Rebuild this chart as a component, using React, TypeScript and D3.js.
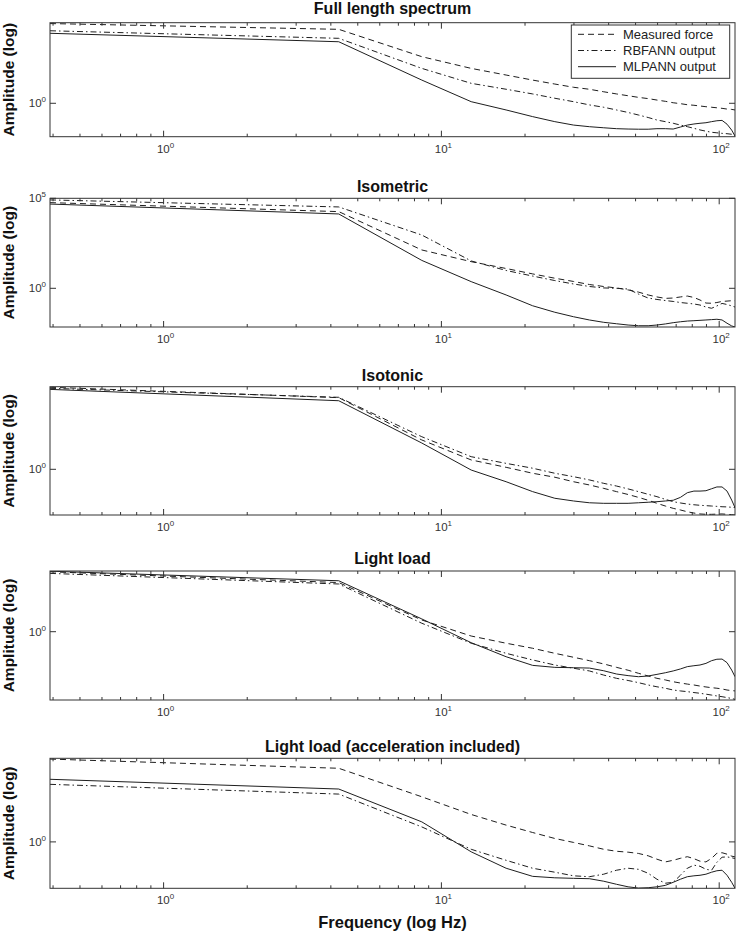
import React from 'react';
import * as d3 from 'd3';

// ---------- DATA (amplitudes stored as log10 exponents) ----------
const freqs = [0.39, 4.27, 8.5, 12.8, 17.1, 21.3, 25.6, 29.9, 34.1, 38.4, 42.7, 47, 51.2, 55.5, 59.7, 64, 68.3, 72.5, 76.8, 81.1, 85.3, 89.6, 93.9, 98.1, 102.4, 106.7, 110.9, 114];
const freqDomain = [0.39, 114];

const titles = ['Full length spectrum', 'Isometric', 'Isotonic', 'Light load', 'Light load (acceleration included)'];
const yMinExp = [-1.856, -2.15, -2.539, -3.794, -2.572];
const yMaxExp = [4.478, 5, 4.589, 3.372, 4.633];
const seriesNames = ['Measured force', 'RBFANN output', 'MLPANN output'];
const xTickExps = [0, 1, 2];

const fullMeasured = [4.43, 4.11, 2.59, 1.94, 1.57, 1.29, 1.07, 0.89, 0.78, 0.64, 0.52, 0.42, 0.33, 0.26, 0.18, 0.11, 0.03, -0.02, -0.08, -0.11, -0.15, -0.19, -0.22, -0.25, -0.28, -0.32, -0.34, -0.37];
const fullRbf = [4.03, 3.61, 1.94, 1.11, 0.78, 0.52, 0.28, 0.09, -0.09, -0.22, -0.37, -0.51, -0.65, -0.79, -0.93, -1.02, -1.11, -1.21, -1.30, -1.39, -1.48, -1.55, -1.61, -1.64, -1.67, -1.69, -1.72, -1.76];
const fullMlp = [3.89, 3.42, 1.29, 0.09, -0.37, -0.74, -1.02, -1.21, -1.30, -1.36, -1.41, -1.43, -1.44, -1.44, -1.41, -1.41, -1.43, -1.32, -1.21, -1.15, -1.11, -1.08, -1.02, -0.97, -0.95, -1.16, -1.49, -1.82];

const isoMeasured = [4.76, 4.26, 2.13, 1.48, 1.10, 0.80, 0.56, 0.38, 0.21, 0.10, 0.02, -0.09, -0.21, -0.37, -0.48, -0.56, -0.54, -0.48, -0.43, -0.51, -0.65, -0.82, -0.83, -0.79, -0.73, -0.71, -0.69, -0.69];
const isoRbf = [4.91, 4.52, 2.96, 1.52, 0.99, 0.68, 0.43, 0.24, 0.10, 0.02, 0, -0.04, -0.32, -0.54, -0.62, -0.68, -0.73, -0.79, -0.83, -0.87, -0.93, -1.04, -1.11, -0.98, -0.84, -0.90, -0.98, -1.04];
const isoMlp = [4.68, 4.13, 1.55, 0.37, -0.37, -0.97, -1.33, -1.58, -1.76, -1.89, -1.97, -2.04, -2.08, -2.08, -2.04, -1.98, -1.91, -1.86, -1.82, -1.80, -1.78, -1.76, -1.74, -1.72, -1.76, -1.94, -2.09, -2.15];

const tonMeasured = [4.56, 3.98, 1.63, 0.52, 0.11, -0.22, -0.44, -0.69, -0.87, -1.06, -1.24, -1.40, -1.56, -1.72, -1.89, -2.04, -2.17, -2.26, -2.36, -2.43, -2.48, -2.50, -2.50, -2.49, -2.48, -2.50, -2.52, -2.54];
const tonRbf = [4.50, 4.00, 1.81, 0.70, 0.33, 0.06, -0.22, -0.41, -0.59, -0.78, -0.93, -1.09, -1.24, -1.39, -1.52, -1.67, -1.80, -1.87, -1.93, -1.97, -2.00, -2.02, -2.04, -2.06, -2.08, -2.09, -2.11, -2.13];
const tonMlp = [4.44, 3.81, 1.46, -0.04, -0.69, -1.24, -1.61, -1.76, -1.86, -1.89, -1.89, -1.89, -1.86, -1.83, -1.80, -1.76, -1.72, -1.56, -1.30, -1.21, -1.21, -1.19, -1.08, -0.98, -0.98, -1.21, -1.71, -2.13];

const lightMeasured = [3.33, 2.73, 0.65, -0.24, -0.64, -0.92, -1.20, -1.42, -1.61, -1.79, -1.98, -2.14, -2.31, -2.46, -2.59, -2.68, -2.78, -2.85, -2.91, -2.96, -3.02, -3.07, -3.11, -3.14, -3.18, -3.24, -3.27, -3.29];
const lightRbf = [3.24, 2.65, 0.47, -0.64, -1.20, -1.57, -1.85, -2.03, -2.18, -2.41, -2.59, -2.71, -2.83, -2.96, -3.06, -3.14, -3.24, -3.29, -3.33, -3.38, -3.42, -3.47, -3.52, -3.57, -3.61, -3.66, -3.71, -3.76];
const lightMlp = [3.36, 2.83, 0.71, -0.61, -1.39, -1.87, -1.98, -2.00, -2.02, -2.17, -2.35, -2.44, -2.50, -2.46, -2.37, -2.28, -2.18, -2.07, -1.94, -1.89, -1.85, -1.76, -1.61, -1.53, -1.52, -1.72, -2.13, -2.50];

const accMeasured = [4.59, 4.08, 2.50, 1.52, 0.93, 0.52, 0.19, -0.03, -0.22, -0.41, -0.52, -0.57, -0.64, -0.77, -0.96, -1.11, -1.02, -0.91, -0.82, -0.93, -1.07, -1.11, -0.91, -0.63, -0.60, -0.68, -0.79, -0.83];
const accRbf = [3.19, 2.65, 0.83, -0.41, -1.02, -1.46, -1.68, -1.88, -1.93, -1.79, -1.57, -1.46, -1.52, -1.74, -2.07, -2.29, -2.24, -1.85, -1.46, -1.29, -1.35, -1.52, -1.57, -1.13, -0.85, -0.83, -0.88, -0.92];
const accMlp = [3.47, 2.93, 1.11, -0.55, -1.46, -1.91, -1.99, -2.02, -2.04, -2.18, -2.35, -2.49, -2.56, -2.54, -2.49, -2.41, -2.24, -2.07, -1.93, -1.88, -1.85, -1.79, -1.68, -1.60, -1.57, -1.85, -2.24, -2.57];

const panelSeries = [
  [fullMeasured, fullRbf, fullMlp],
  [isoMeasured, isoRbf, isoMlp],
  [tonMeasured, tonRbf, tonMlp],
  [lightMeasured, lightRbf, lightMlp],
  [accMeasured, accRbf, accMlp],
];

// ---------- LAYOUT / STYLE ----------
const W = 736, H = 933;
const X0 = 50, X1 = 735;
const boxes = [
  { top: 22.7, bottom: 136.7, titleY: 13.5 },
  { top: 198.3, bottom: 327, titleY: 191.5 },
  { top: 386.7, bottom: 515, titleY: 380.5 },
  { top: 571, bottom: 700, titleY: 564 },
  { top: 758.3, bottom: 888.3, titleY: 752 },
];
const FONT = '"Liberation Sans", Arial, Helvetica, sans-serif';
const INK = '#1e1e1e';
const AXIS = '#333';
const dashStyles = ['6,4', '6,3,1.5,3', null];

function Sup({ base, exp, ...rest }: any) {
  return (
    <text {...rest}>
      {base}
      <tspan fontSize={8} dy={-5}>{exp}</tspan>
    </text>
  );
}

function Panel({ i }: { i: number }) {
  const b = boxes[i];
  const x = d3.scaleLog().domain(freqDomain).range([X0, X1]);
  const y = d3.scaleLog().domain([Math.pow(10, yMinExp[i]), Math.pow(10, yMaxExp[i])]).range([b.bottom, b.top]);
  const line = d3.line<[number, number]>().x(d => x(d[0])).y(d => y(d[1])).curve(d3.curveLinear);

  const minor: number[] = [];
  for (let k = -1; k <= 2; k++) {
    for (let m = 2; m <= 9; m++) {
      const v = m * Math.pow(10, k);
      if (v >= freqDomain[0] && v <= freqDomain[1]) minor.push(v);
    }
  }
  const major = xTickExps.map(e => Math.pow(10, e));
  const yTicks: number[] = [];
  for (let e = -10; e <= 10; e += 5) {
    if (e >= yMinExp[i] - 1e-6 && e <= yMaxExp[i] + 1e-6) yTicks.push(e);
  }
  const clipId = `clip${i}`;
  const midY = (b.top + b.bottom) / 2;

  return (
    <g>
      <defs>
        <clipPath id={clipId}>
          <rect x={X0} y={b.top} width={X1 - X0} height={b.bottom - b.top} />
        </clipPath>
      </defs>
      <text x={(X0 + X1) / 2} y={b.titleY} textAnchor="middle" fontFamily={FONT} fontWeight="bold" fontSize={16} fill="#111">
        {titles[i]}
      </text>
      <text transform={`translate(${13.5},${midY}) rotate(-90)`} textAnchor="middle" fontFamily={FONT} fontWeight="bold" fontSize={15.5} fill="#111">
        Amplitude (log)
      </text>
      <g clipPath={`url(#${clipId})`}>
        {panelSeries[i].map((s, si) => {
          const pts: [number, number][] = freqs.map((f, k) => [f, Math.pow(10, s[k])]);
          return (
            <path key={si} d={line(pts) || ''} fill="none" stroke={INK} strokeWidth={1}
              strokeDasharray={dashStyles[si] || undefined} />
          );
        })}
      </g>
      <rect x={X0} y={b.top} width={X1 - X0} height={b.bottom - b.top} fill="none" stroke={AXIS} strokeWidth={1} />
      {minor.map(v => (
        <g key={'m' + v}>
          <line x1={x(v)} x2={x(v)} y1={b.bottom} y2={b.bottom - 3} stroke={AXIS} />
          <line x1={x(v)} x2={x(v)} y1={b.top} y2={b.top + 3} stroke={AXIS} />
        </g>
      ))}
      {major.map((v, k) => (
        <g key={'M' + v}>
          <line x1={x(v)} x2={x(v)} y1={b.bottom} y2={b.bottom - 6} stroke={AXIS} />
          <line x1={x(v)} x2={x(v)} y1={b.top} y2={b.top + 6} stroke={AXIS} />
          <Sup base="10" exp={String(xTickExps[k])} x={x(v) + 2} y={b.bottom + 16} textAnchor="middle" fontFamily={FONT} fontSize={11.5} fill="#333" />
        </g>
      ))}
      {yTicks.map(e => {
        const yy = y(Math.pow(10, e));
        return (
          <g key={'y' + e}>
            <line x1={X0} x2={X0 + 6} y1={yy} y2={yy} stroke={AXIS} />
            <line x1={X1} x2={X1 - 6} y1={yy} y2={yy} stroke={AXIS} />
            <Sup base="10" exp={String(e)} x={46} y={yy + 4} textAnchor="end" fontFamily={FONT} fontSize={11.5} fill="#333" />
          </g>
        );
      })}
    </g>
  );
}

function Legend() {
  const lx = 571.3, ly = 25, lw = 158.4, lh = 53.3;
  const rows = [34.3, 50.5, 66.7];
  return (
    <g>
      <rect x={lx} y={ly} width={lw} height={lh} fill="#fff" stroke={AXIS} strokeWidth={1} />
      {seriesNames.map((n, k) => (
        <g key={n}>
          <line x1={578} x2={616} y1={rows[k]} y2={rows[k]} stroke={INK} strokeWidth={1}
            strokeDasharray={dashStyles[k] || undefined} />
          <text x={623} y={rows[k] + 4.5} fontFamily={FONT} fontSize={13} fill="#222">{n}</text>
        </g>
      ))}
    </g>
  );
}

export default function App() {
  return (
    <svg width={W} height={H} viewBox={`0 0 ${W} ${H}`} style={{ position: 'absolute', left: 0, top: 0, background: '#fff' }}>
      <rect x={0} y={0} width={W} height={H} fill="#fff" />
      {boxes.map((_, i) => <Panel key={i} i={i} />)}
      <Legend />
      <text x={(X0 + X1) / 2} y={927.5} textAnchor="middle" fontFamily={FONT} fontWeight="bold" fontSize={16.5} fill="#111">
        Frequency (log Hz)
      </text>
    </svg>
  );
}
